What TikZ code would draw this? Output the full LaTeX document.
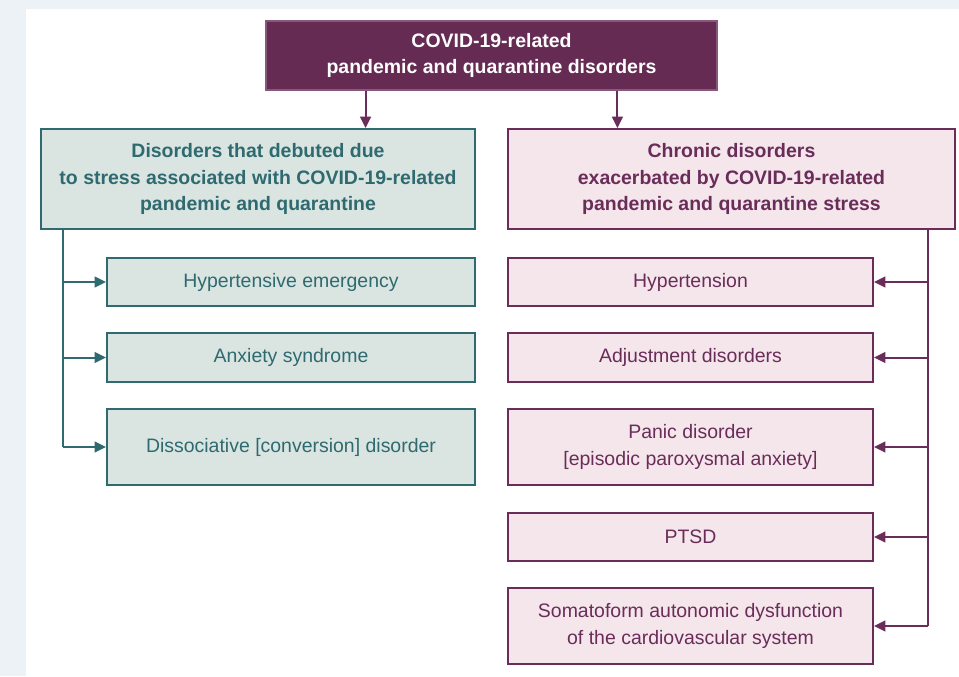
\documentclass[tikz,border=0pt]{standalone}
\usepackage{fontspec}
\setmainfont{Liberation Sans}
\usepackage{xcolor}
\definecolor{plumDark}{HTML}{652B52}
\definecolor{plumLine}{HTML}{6A2D5A}
\definecolor{plumFill}{HTML}{F4E6EA}
\definecolor{tealLine}{HTML}{2E6A6F}
\definecolor{tealFill}{HTML}{DAE5E1}
\definecolor{pageBg}{HTML}{EDF2F7}
\usetikzlibrary{calc}
\usetikzlibrary{arrows.meta}
\tikzset{
    box/.style={rectangle,line width=1.5pt,align=center,inner sep=2pt,
        font=\fontsize{14.6pt}{19.8pt}\selectfont},
    topBox/.style={box,fill=plumDark,draw=plumLine!80!white,text=white,font=\fontsize{14.6pt}{19.8pt}\selectfont\bfseries},
    tealHead/.style={box,fill=tealFill,draw=tealLine,text=tealLine,font=\fontsize{14.6pt}{19.8pt}\selectfont\bfseries},
    plumHead/.style={box,fill=plumFill,draw=plumLine,text=plumLine,font=\fontsize{14.6pt}{19.8pt}\selectfont\bfseries},
    tealItem/.style={box,fill=tealFill,draw=tealLine,text=tealLine},
    plumItem/.style={box,fill=plumFill,draw=plumLine,text=plumLine},
    tealArrow/.style={draw=tealLine,line width=1.5pt,-{Triangle[length=8.5pt,width=8pt]}},
    plumArrow/.style={draw=plumLine,line width=1.5pt,-{Triangle[length=8.5pt,width=8pt]}},
    tealTrunk/.style={draw=tealLine,line width=1.5pt},
    plumTrunk/.style={draw=plumLine,line width=1.5pt}
}

\begin{document}
\begin{tikzpicture}[x=0.75pt,y=-0.75pt]
  % page and background
  \useasboundingbox (0,0) rectangle (959,676);
  \fill[pageBg] (0,0) rectangle (959,676);
  \fill[white] (26,9) rectangle (959,676);

  % top box
  \node[topBox,minimum width=451*0.75pt,minimum height=69*0.75pt] (top) at (491.5,55.5)
    {COVID-19-related\\pandemic and quarantine disorders};

  % the two headers
  \node[tealHead,minimum width=434*0.75pt,minimum height=100*0.75pt] (lhead) at (258,179)
    {Disorders that debuted due\\to stress associated with COVID-19-related\\pandemic and quarantine};
  \node[plumHead,minimum width=447*0.75pt,minimum height=100*0.75pt] (rhead) at (731.5,179)
    {Chronic disorders\\exacerbated by COVID-19-related\\pandemic and quarantine stress};

  % left column
  \node[tealItem,minimum width=368*0.75pt,minimum height=48*0.75pt] (l1) at (291,282) {Hypertensive emergency};
  \node[tealItem,minimum width=368*0.75pt,minimum height=49*0.75pt] (l2) at (291,357.5) {Anxiety syndrome};
  \node[tealItem,minimum width=368*0.75pt,minimum height=76*0.75pt] (l3) at (291,447) {Dissociative [conversion] disorder};

  % right column
  \node[plumItem,minimum width=365*0.75pt,minimum height=48*0.75pt] (r1) at (690.5,282) {Hypertension};
  \node[plumItem,minimum width=365*0.75pt,minimum height=49*0.75pt] (r2) at (690.5,357.5) {Adjustment disorders};
  \node[plumItem,minimum width=365*0.75pt,minimum height=76*0.75pt] (r3) at (690.5,447)
    {Panic disorder\\[1pt][episodic paroxysmal anxiety]};
  \node[plumItem,minimum width=365*0.75pt,minimum height=48*0.75pt] (r4) at (690.5,537) {PTSD};
  \node[plumItem,minimum width=365*0.75pt,minimum height=76*0.75pt] (r5) at (690.5,626)
    {Somatoform autonomic dysfunction\\of the cardiovascular system};

  % arrows from the top box
  \coordinate (tl) at ($(top.south west)!0.222!(top.south east)$);
  \coordinate (tr) at ($(top.south west)!0.778!(top.south east)$);
  \draw[plumArrow] (tl) -- (tl |- lhead.north);
  \draw[plumArrow] (tr) -- (tr |- rhead.north);

  % left trunk
  \coordinate (lt) at ([xshift=23*0.75pt]lhead.south west);
  \draw[tealTrunk] (lt) -- (lt |- l3.west);
  \foreach \n in {l1,l2,l3}{
    \draw[tealArrow] (lt |- \n.west) -- (\n.west);
  }

  % right trunk
  \coordinate (rt) at ([xshift=-28*0.75pt]rhead.south east);
  \draw[plumTrunk] (rt) -- (rt |- r5.east);
  \foreach \n in {r1,r2,r3,r4,r5}{
    \draw[plumArrow] (rt |- \n.east) -- (\n.east);
  }
\end{tikzpicture}
\end{document}
